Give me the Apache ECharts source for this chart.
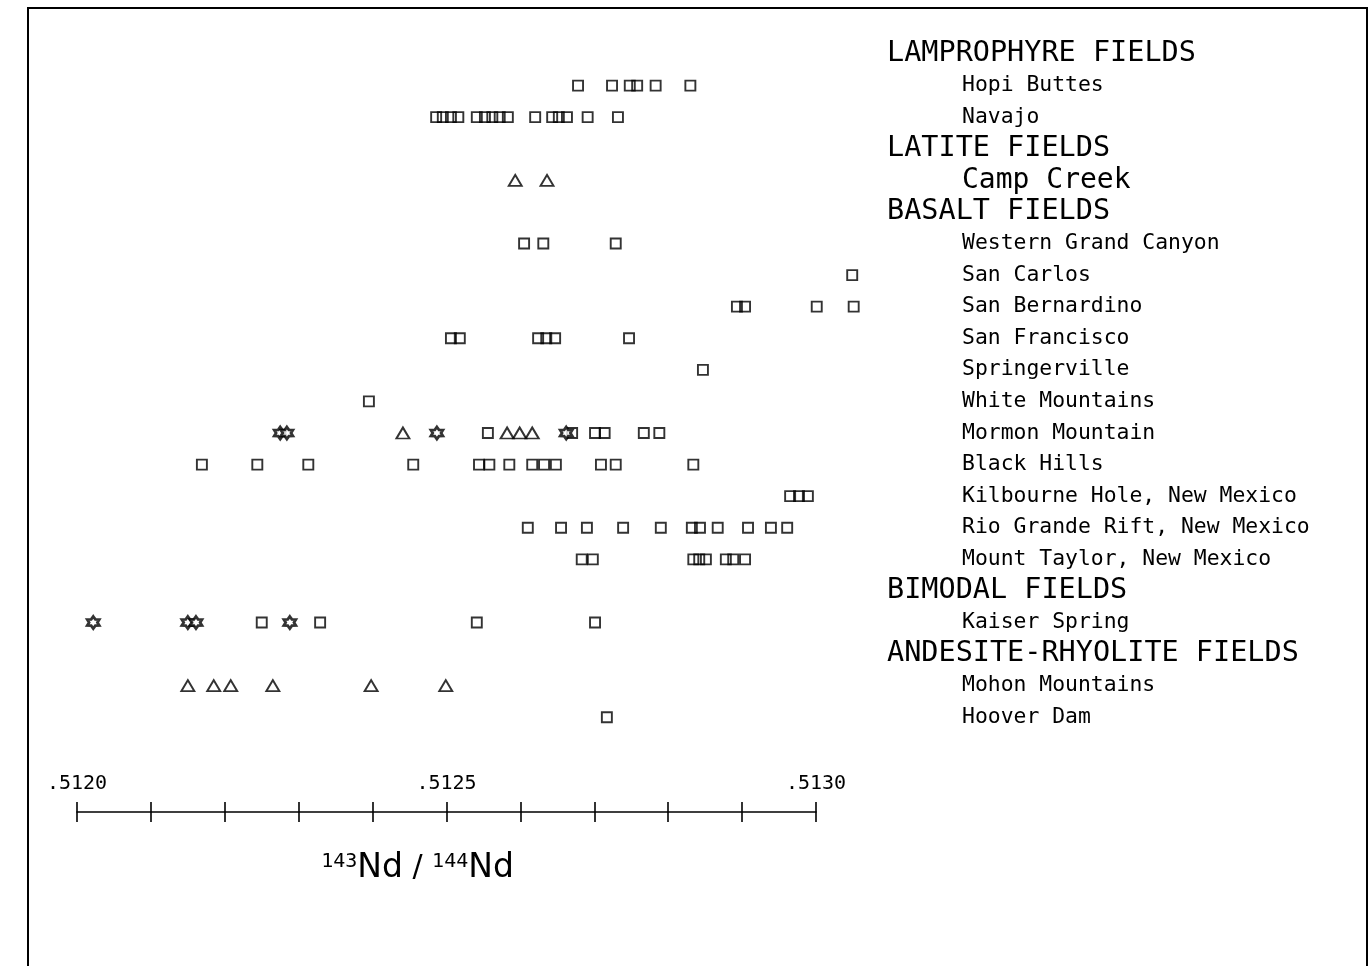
<!DOCTYPE html>
<html>
<head>
<meta charset="utf-8">
<script src="https://cdn.jsdelivr.net/npm/echarts@6/dist/echarts.min.js"></script>
<style>html,body{margin:0;padding:0;background:#fff}#c{width:1372px;height:966px}</style>
</head>
<body>
<div id="c"></div>
<script>
// Row labels, top to bottom (headers are upper case)
const rowLabels = [
  'LAMPROPHYRE FIELDS', 'Hopi Buttes', 'Navajo',
  'LATITE FIELDS', 'Camp Creek',
  'BASALT FIELDS', 'Western Grand Canyon', 'San Carlos', 'San Bernardino', 'San Francisco',
  'Springerville', 'White Mountains', 'Mormon Mountain', 'Black Hills',
  'Kilbourne Hole, New Mexico', 'Rio Grande Rift, New Mexico', 'Mount Taylor, New Mexico',
  'BIMODAL FIELDS', 'Kaiser Spring',
  'ANDESITE-RHYOLITE FIELDS', 'Mohon Mountains', 'Hoover Dam'
];
const headerRows = ['LAMPROPHYRE FIELDS', 'LATITE FIELDS', 'BASALT FIELDS', 'BIMODAL FIELDS', 'ANDESITE-RHYOLITE FIELDS'];

// x tick labels
const tickLabels = ['.5120', '.5125', '.5130'];

// 143Nd/144Nd values, per site and symbol
const hopiButtesSq = [0.512678, 0.512724, 0.512748, 0.512758, 0.512783, 0.512830];
const navajoSq = [0.512486, 0.512495, 0.512506, 0.512516, 0.512541, 0.512552, 0.512562, 0.512572, 0.512583, 0.512620, 0.512643, 0.512652, 0.512663, 0.512691, 0.512732];
const campCreekTri = [0.512593, 0.512636];
const westernGrandCanyonSq = [0.512605, 0.512631, 0.512729];
const sanCarlosSq = [0.513049];
const sanBernardinoSq = [0.512893, 0.512904, 0.513001, 0.513051];
const sanFranciscoSq = [0.512506, 0.512518, 0.512624, 0.512635, 0.512647, 0.512747];
const springervilleSq = [0.512847];
const whiteMountainsSq = [0.512395];
const mormonMountainSq = [0.512556, 0.512670, 0.512701, 0.512714, 0.512767, 0.512788];
const mormonMountainTri = [0.512441, 0.512582, 0.512599, 0.512616];
const mormonMountainStar = [0.512275, 0.512284, 0.512487, 0.512662];
const blackHillsSq = [0.512169, 0.512244, 0.512313, 0.512455, 0.512544, 0.512558, 0.512585, 0.512616, 0.512632, 0.512648, 0.512709, 0.512729, 0.512834];
const kilbourneHoleSq = [0.512965, 0.512977, 0.512989];
const rioGrandeSq = [0.512610, 0.512655, 0.512690, 0.512739, 0.512790, 0.512832, 0.512843, 0.512867, 0.512908, 0.512939, 0.512961];
const mountTaylorSq = [0.512683, 0.512698, 0.512834, 0.512842, 0.512851, 0.512878, 0.512888, 0.512904];
const kaiserSpringSq = [0.512250, 0.512329, 0.512541, 0.512701];
const kaiserSpringStar = [0.512022, 0.512150, 0.512161, 0.512288];
const mohonMountainsTri = [0.512150, 0.512185, 0.512208, 0.512265, 0.512398, 0.512499];
const hooverDamSq = [0.512717];

function rowOf(name) { return rowLabels.indexOf(name); }
function pts(vals, name) { return vals.map(v => [v, rowOf(name)]); }

const squareData = [].concat(
  pts(hopiButtesSq, 'Hopi Buttes'), pts(navajoSq, 'Navajo'),
  pts(westernGrandCanyonSq, 'Western Grand Canyon'), pts(sanCarlosSq, 'San Carlos'),
  pts(sanBernardinoSq, 'San Bernardino'), pts(sanFranciscoSq, 'San Francisco'),
  pts(springervilleSq, 'Springerville'), pts(whiteMountainsSq, 'White Mountains'),
  pts(mormonMountainSq, 'Mormon Mountain'), pts(blackHillsSq, 'Black Hills'),
  pts(kilbourneHoleSq, 'Kilbourne Hole, New Mexico'), pts(rioGrandeSq, 'Rio Grande Rift, New Mexico'),
  pts(mountTaylorSq, 'Mount Taylor, New Mexico'), pts(kaiserSpringSq, 'Kaiser Spring'),
  pts(hooverDamSq, 'Hoover Dam')
);
const triangleData = [].concat(
  pts(campCreekTri, 'Camp Creek'), pts(mormonMountainTri, 'Mormon Mountain'),
  pts(mohonMountainsTri, 'Mohon Mountains')
);
const starData = [].concat(
  pts(mormonMountainStar, 'Mormon Mountain'), pts(kaiserSpringStar, 'Kaiser Spring')
);

const FONT = '"DejaVu Sans Mono", "Liberation Mono", monospace';
const starPath = 'path://M0,-10 L3,-5.2 L8.66,-5 L6,0 L8.66,5 L3,5.2 L0,10 L-3,5.2 L-8.66,5 L-6,0 L-8.66,-5 L-3,-5.2 Z';
const open = { color: 'rgba(0,0,0,0)', borderColor: '#000', borderWidth: 1.9 };

const chart = echarts.init(document.getElementById('c'), null, { renderer: 'canvas' });
chart.setOption({
  backgroundColor: '#fff',
  animation: false,
  grid: [
    { id: 'main', left: 77, right: 556, top: 54, bottom: 154 },
    { id: 'tickGrid', left: 77, right: 556, top: 812, height: 10 }
  ],
  xAxis: [
    {
      id: 'xMain', gridIndex: 0,
      type: 'value', min: 0.5120, max: 0.5130, interval: 0.0001,
      position: 'bottom',
      splitLine: { show: false },
      axisLine: { show: true, onZero: false, lineStyle: { color: '#000', width: 1.6 } },
      axisTick: { show: true, inside: true, length: 10, lineStyle: { color: '#000', width: 1.6 } },
      axisLabel: {
        inside: true, margin: 18, color: '#000', fontFamily: FONT, fontSize: 20,
        formatter: v => {
          const i = Math.round((v - 0.5120) * 10000);
          return i % 5 === 0 ? tickLabels[i / 5] : '';
        }
      },
      name: '{s|143}{n|Nd}{m| / }{s|144}{n|Nd}',
      nameLocation: 'middle', nameGap: 40,
      nameTextStyle: {
        padding: [0, 58, 0, 0],
        rich: {
          s: { fontFamily: FONT, fontSize: 20, color: '#000', verticalAlign: 'top', padding: [0, 0, 12, 0] },
          n: { fontFamily: '"DejaVu Sans", sans-serif', fontSize: 33, color: '#000' },
          m: { fontFamily: '"DejaVu Sans", sans-serif', fontSize: 30, color: '#000' }
        }
      }
    },
    {
      id: 'xTicks', gridIndex: 1,
      type: 'value', min: 0.5120, max: 0.5130, interval: 0.0001,
      position: 'top',
      axisLine: { show: false, onZero: false },
      axisTick: { show: false },
      axisLabel: { show: false },
      splitLine: { show: true, lineStyle: { color: '#000', width: 1.6, type: 'solid' } }
    }
  ],
  yAxis: [
    {
      id: 'yMain', gridIndex: 0,
      type: 'value', inverse: true, min: 0, max: 24, interval: 1,
      position: 'right',
      splitLine: { show: false }, axisLine: { show: false }, axisTick: { show: false },
      axisLabel: {
        margin: 71, align: 'left', color: '#000',
        formatter: v => {
          const name = rowLabels[v];
          if (!name) return '';
          if (name === 'Camp Creek') return '{c|' + name + '}';
          return headerRows.indexOf(name) >= 0 ? '{h|' + name + '}' : '{s|' + name + '}';
        },
        rich: {
          h: { fontFamily: FONT, fontSize: 28.5, color: '#000' },
          c: { fontFamily: FONT, fontSize: 28, color: '#000', padding: [0, 0, 0, 75] },
          s: { fontFamily: FONT, fontSize: 21.4, color: '#000', padding: [0, 0, 0, 75] }
        }
      }
    },
    {
      id: 'yTicks', gridIndex: 1, type: 'value', min: 0, max: 1,
      axisLine: { show: false }, axisTick: { show: false }, axisLabel: { show: false }, splitLine: { show: false }
    }
  ],
  series: [
    { type: 'scatter', name: 'squares', xAxisIndex: 0, yAxisIndex: 0, clip: false, symbol: 'rect', symbolSize: 10, itemStyle: open, data: squareData },
    { type: 'scatter', name: 'triangles', xAxisIndex: 0, yAxisIndex: 0, clip: false, symbol: 'triangle', symbolSize: [13, 11], itemStyle: open, data: triangleData },
    { type: 'scatter', name: 'stars', xAxisIndex: 0, yAxisIndex: 0, clip: false, symbol: starPath, symbolSize: 12, itemStyle: { color: '#fff', borderColor: '#000', borderWidth: 2.8 }, data: starData }
  ],
  graphic: [
    { type: 'rect', shape: { x: 28, y: 8, width: 1339, height: 970 }, style: { fill: 'none', stroke: '#000', lineWidth: 2 }, silent: true }
  ]
});
</script>
</body>
</html>
